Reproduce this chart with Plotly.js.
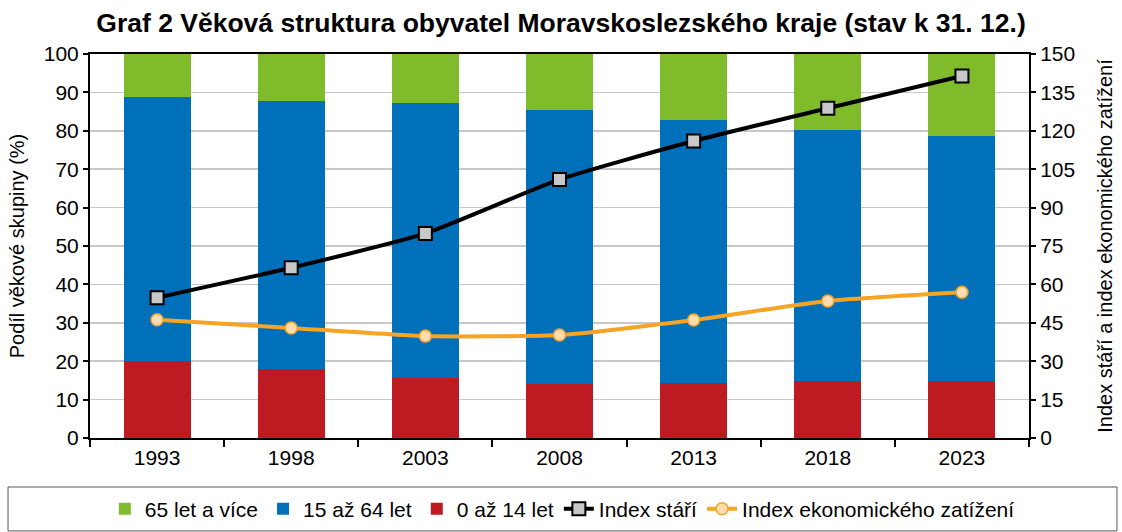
<!DOCTYPE html>
<html><head><meta charset="utf-8">
<script src="https://cdn.plot.ly/plotly-3.0.1.min.js"></script>
<style>html,body{margin:0;padding:0;background:#fff}#chart{width:1122px;height:532px}</style>
</head><body><div id="chart"></div>
<script>
const years = ['1993','1998','2003','2008','2013','2018','2023'];
const age0_14 = [20.1, 17.9, 15.7, 14.1, 14.4, 14.9, 14.8];
const age15_64 = [68.6, 69.9, 71.5, 71.4, 68.5, 65.4, 63.8];
const age65plus = [11.3, 12.2, 12.8, 14.5, 17.1, 19.7, 21.4];
const indexStari = [54.8, 66.5, 79.9, 101.0, 116.0, 128.8, 141.4];
const indexZatizeni = [46.2, 43.0, 39.8, 40.2, 46.1, 53.5, 56.9];

const F = 'Arial, "Liberation Sans", sans-serif';
const data = [
  {type:'bar', name:'0 až 14 let', x:years, y:age0_14, marker:{color:'#BE1A22'}, legendrank:3, hoverinfo:'skip'},
  {type:'bar', name:'15 až 64 let', x:years, y:age15_64, marker:{color:'#0070BB'}, legendrank:2, hoverinfo:'skip'},
  {type:'bar', name:'65 let a více', x:years, y:age65plus, marker:{color:'#80BB2B'}, legendrank:1, hoverinfo:'skip'},
  {type:'scatter', mode:'lines+markers', name:'Index stáří', x:years, y:indexStari, yaxis:'y2', legendrank:4,
   line:{color:'#000', width:4, shape:'spline', smoothing:0.5},
   marker:{symbol:'square', size:13, color:'#C8C8C8', line:{color:'#000', width:2}}},
  {type:'scatter', mode:'lines+markers', name:'Index ekonomického zatížení', x:years, y:indexZatizeni, yaxis:'y2', legendrank:5,
   line:{color:'#F7A324', width:4, shape:'spline', smoothing:0.5},
   marker:{symbol:'circle', size:12, color:'#FDDDB0', line:{color:'#F7A324', width:1.5}}}
];
const layout = {
  width:1122, height:532,
  margin:{l:90, r:93, t:54, b:94, autoexpand:false},
  paper_bgcolor:'#fff', plot_bgcolor:'#fff',
  barmode:'stack', bargap:0.5,
  font:{family:F, size:21, color:'#000'},
  title:{text:'<b>Graf 2 Věková struktura obyvatel Moravskoslezského kraje (stav k 31. 12.)</b>',
         font:{family:F, size:26.5, color:'#000'}, x:0.5, xanchor:'center', y:0.957, yanchor:'middle'},
  xaxis:{type:'category', showline:true, linecolor:'#000', linewidth:2, mirror:true,
         ticks:'outside', tickson:'boundaries', ticklen:7, tickwidth:2, tickcolor:'#000',
         tickfont:{size:21}, showgrid:false, zeroline:false, fixedrange:true, automargin:false},
  yaxis:{range:[0,100], dtick:10, showline:true, linecolor:'#000', linewidth:2,
         ticks:'outside', ticklen:5, tickwidth:2, tickcolor:'#000',
         gridcolor:'#C8C8C8', gridwidth:1.5, zeroline:false, automargin:false,
         tickfont:{size:21}, title:{text:'Podíl věkové skupiny (%)', font:{size:20}, standoff:14}},
  yaxis2:{range:[0,150], dtick:15, overlaying:'y', side:'right', showline:true, linecolor:'#000', linewidth:2,
          ticks:'outside', ticklen:5, tickwidth:2, tickcolor:'#000', showgrid:false, zeroline:false, automargin:false,
          tickfont:{size:21}, title:{text:'Index stáří a index ekonomického zatížení', font:{size:20}, standoff:24}},
  showlegend:true,
  legend:{orientation:'h', x:0.503, xanchor:'center', y:-0.185, yanchor:'middle',
          traceorder:'normal', font:{size:21}, itemwidth:30, bgcolor:'rgba(0,0,0,0)'},
  shapes:[{type:'rect', xref:'paper', yref:'paper', x0:-0.0873, x1:1.0937, y0:-0.242, y1:-0.1276,
           line:{color:'#555', width:1}, fillcolor:'rgba(0,0,0,0)', layer:'below'}]
};
Plotly.newPlot('chart', data, layout, {displayModeBar:false, staticPlot:true});
</script></body></html>
